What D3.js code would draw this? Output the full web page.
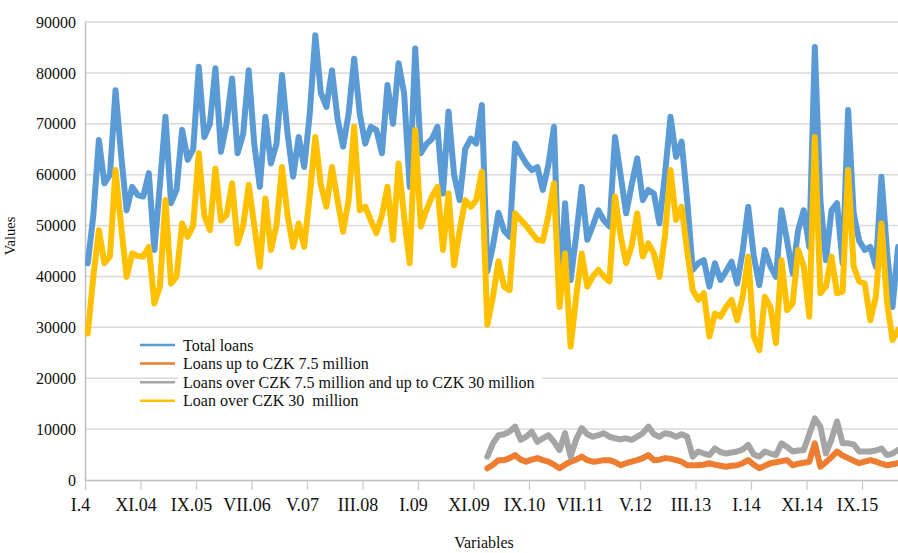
<!DOCTYPE html>
<html><head><meta charset="utf-8">
<script src="https://cdn.jsdelivr.net/npm/d3@7"></script>
<style>body{margin:0;background:#fff}svg{display:block}</style>
</head><body><svg id="c" width="898" height="553"></svg>
<script>
// Monthly data, January 2004 onward (147 months)
const nMonths = 147;
const totalLoans = [
42600,52000,66800,58300,60000,76600,64000,53000,57600,56000,
55700,60300,45200,58000,71400,54400,57000,68800,62900,65000,
81200,67400,70000,80900,64500,70000,78900,64200,68000,80500,
66000,57600,71400,62200,66000,79600,68000,59600,67400,61500,
72000,87400,76000,73300,80500,71000,65500,72000,82800,72000,
66100,69400,68800,64200,77600,70000,81900,76000,57600,84800,
64200,66000,67000,69400,56300,72400,60000,55000,65000,67100,
66100,73700,41000,46000,52500,49000,47800,66100,64000,62200,
60900,61500,57000,62000,69400,36000,54400,39300,48000,57600,
47200,50000,53000,51000,49800,67400,60000,52400,58000,63200,
55000,57000,56300,50400,60000,71400,63500,66500,55000,41300,
42600,43200,38000,42600,39300,41000,42900,38600,45000,53700,
44000,38300,45200,42000,39900,53000,47000,40600,49100,53000,
45800,85100,55000,43200,53000,54400,42600,72700,52400,47000,
45200,45800,41900,59600,45000,34000,45800];
const loansOver30 = [
28800,40000,49100,42600,44000,60900,50000,39900,44500,44000,
43900,45800,34700,38000,55000,38600,40000,50400,47800,50000,
64200,52000,49100,61200,51000,52000,58300,46500,50000,58000,
50000,41900,55300,45200,50000,61500,52000,45800,50400,45800,
56000,67400,58000,53700,61500,55000,48800,55000,69400,53000,
53700,51000,48500,52000,57600,47200,62200,51700,42600,68800,
49800,53000,55700,57600,45200,56300,42200,49000,55000,53700,
55000,60600,30500,36000,43000,38000,37300,52400,51100,50000,
48500,47200,47000,52000,58300,34000,44500,26200,36000,44500,
38000,40000,41300,40000,39000,55700,48000,42600,46000,52400,
43900,46500,44500,39900,48000,60900,51100,53700,45000,37300,
35400,36700,28200,32700,32100,34000,35400,31400,36000,43900,
28200,25500,36000,34000,26900,43200,33400,34700,45200,42000,
32100,67400,36700,38000,43900,36700,37000,60900,41900,39000,
38600,31400,36000,50400,35000,27500,29500];
// The two smaller size classes are reported from month index 72 (January 2010)
const smallStart = 72;
const loansUpTo75 = [
2300,3000,3900,3900,4300,4900,4000,3600,4000,4300,
3900,3600,3000,2300,3000,3600,4000,4600,3900,3600,
3700,3900,3900,3500,2900,3300,3600,3900,4300,4900,
3900,4000,4300,4200,3900,3600,2900,2900,2900,3000,
3300,3000,2800,2600,2800,2900,3300,3900,3000,2300,
2800,3300,3500,3700,3900,2900,3200,3400,3600,7200,
2600,3500,4500,5600,4800,4300,3800,3300,3600,3900,
3600,3200,2900,3100,3300];
const loans75to30 = [
4600,7200,8800,9000,9500,10500,7900,8500,9500,7500,
8200,8800,7500,5900,9200,4600,8000,10200,9000,8500,
8800,9200,8500,8200,8000,8200,7900,8500,9200,10500,
9000,8500,9200,9000,8500,9000,8500,4600,5600,5200,
4900,6200,5500,5200,5400,5600,6000,6900,5000,4600,
5600,5200,4900,7200,6500,5600,5800,5900,9000,12100,
10500,5200,8000,11500,7200,7200,7000,5600,5600,5600,
5800,6200,4900,5200,5900];
const tickIndex = [0,10,20,30,40,50,60,70,80,90,100,110,120,130,140];
const tickLabels = ["I.4","XI.04","IX.05","VII.06","V.07","III.08","I.09","XI.09","IX.10","VII.11","V.12","III.13","I.14","XI.14","IX.15"];
const yTicks = [0,10000,20000,30000,40000,50000,60000,70000,80000,90000];
const seriesNames = ["Total loans","Loans up to CZK 7.5 million","Loans over CZK 7.5 million and up to CZK 30 million","Loan over CZK 30  million"];
const seriesColors = ["#5b9bd5","#ed7d31","#a5a5a5","#ffc000"];

(function(){
const font = "'Liberation Serif','Times New Roman',serif";
const svg = d3.select('#c');
const pl = 85, monthW = 5.55, pt = 22, pb = 480, pr = 898;
const x = d3.scaleLinear().domain([0, nMonths]).range([pl, pl + nMonths*monthW]);
const y = d3.scaleLinear().domain([0, 90000]).range([pb, pt]);

svg.append('g').selectAll('line').data(yTicks.slice(1)).join('line')
  .attr('x1', pl).attr('x2', pr).attr('y1', d=>y(d)).attr('y2', d=>y(d))
  .attr('stroke', '#d9d9d9').attr('stroke-width', 1.5);

const ya = svg.append('g').attr('transform', `translate(${pl},0)`)
  .call(d3.axisLeft(y).tickValues(yTicks).tickSize(0).tickPadding(9).tickFormat(d3.format('d')));
ya.select('.domain').attr('stroke', '#bfbfbf').attr('stroke-width', 1.5);
ya.selectAll('text').attr('font-family', font).attr('font-size', 16).attr('fill', '#111');

const xa = svg.append('g').attr('transform', `translate(0,${pb})`)
  .call(d3.axisBottom(x).tickValues(tickIndex).tickSize(10).tickPadding(8)
    .tickFormat((d,i)=>tickLabels[i]));
xa.select('.domain').attr('stroke', '#bfbfbf').attr('stroke-width', 1.5).attr('d', `M${pl},0.5H${pr}`);
xa.selectAll('.tick line').attr('stroke', '#c8c8c8').attr('stroke-width', 1.2);
xa.selectAll('text').attr('font-family', font).attr('font-size', 18).attr('fill', '#111').attr('dx', -5);

svg.append('rect').attr('x', 178).attr('y', 336).attr('width', 364).attr('height', 74).attr('fill', '#fff');

svg.append('clipPath').attr('id', 'pc').append('rect')
  .attr('x', pl).attr('y', 0).attr('width', pr-pl).attr('height', 553);
const line = d3.line().x(d=>x(d.i+0.5)).y(d=>y(d.v));
const toPts = (arr, start) => arr.map((v,k)=>({i:k+start, v}));
const series = [toPts(totalLoans,0), toPts(loansUpTo75,smallStart), toPts(loans75to30,smallStart), toPts(loansOver30,0)];
const lg = svg.append('g').attr('clip-path', 'url(#pc)');
series.forEach((s,k)=>{
  lg.append('path').datum(s).attr('d', line).attr('fill','none')
    .attr('stroke', seriesColors[k]).attr('stroke-width', 6)
    .attr('stroke-linejoin','round').attr('stroke-linecap','round');
});

const leg = svg.append('g');
seriesNames.forEach((n,k)=>{
  const yy = 345 + k*18.6;
  leg.append('line').attr('x1',140).attr('x2',175).attr('y1',yy).attr('y2',yy)
    .attr('stroke', seriesColors[k]).attr('stroke-width', 2.5);
  leg.append('text').attr('x',183).attr('y',yy).attr('dy','0.35em')
    .style('white-space','pre')
    .attr('font-family', font).attr('font-size', 16).attr('fill','#111').text(n);
});

svg.append('text').attr('transform','translate(15,236) rotate(-90)').attr('text-anchor','middle')
  .attr('font-family', font).attr('font-size', 14.5).attr('fill','#111').text('Values');
svg.append('text').attr('x',484).attr('y',548).attr('text-anchor','middle')
  .attr('font-family', font).attr('font-size', 16).attr('fill','#111').text('Variables');
})();
</script></body></html>
